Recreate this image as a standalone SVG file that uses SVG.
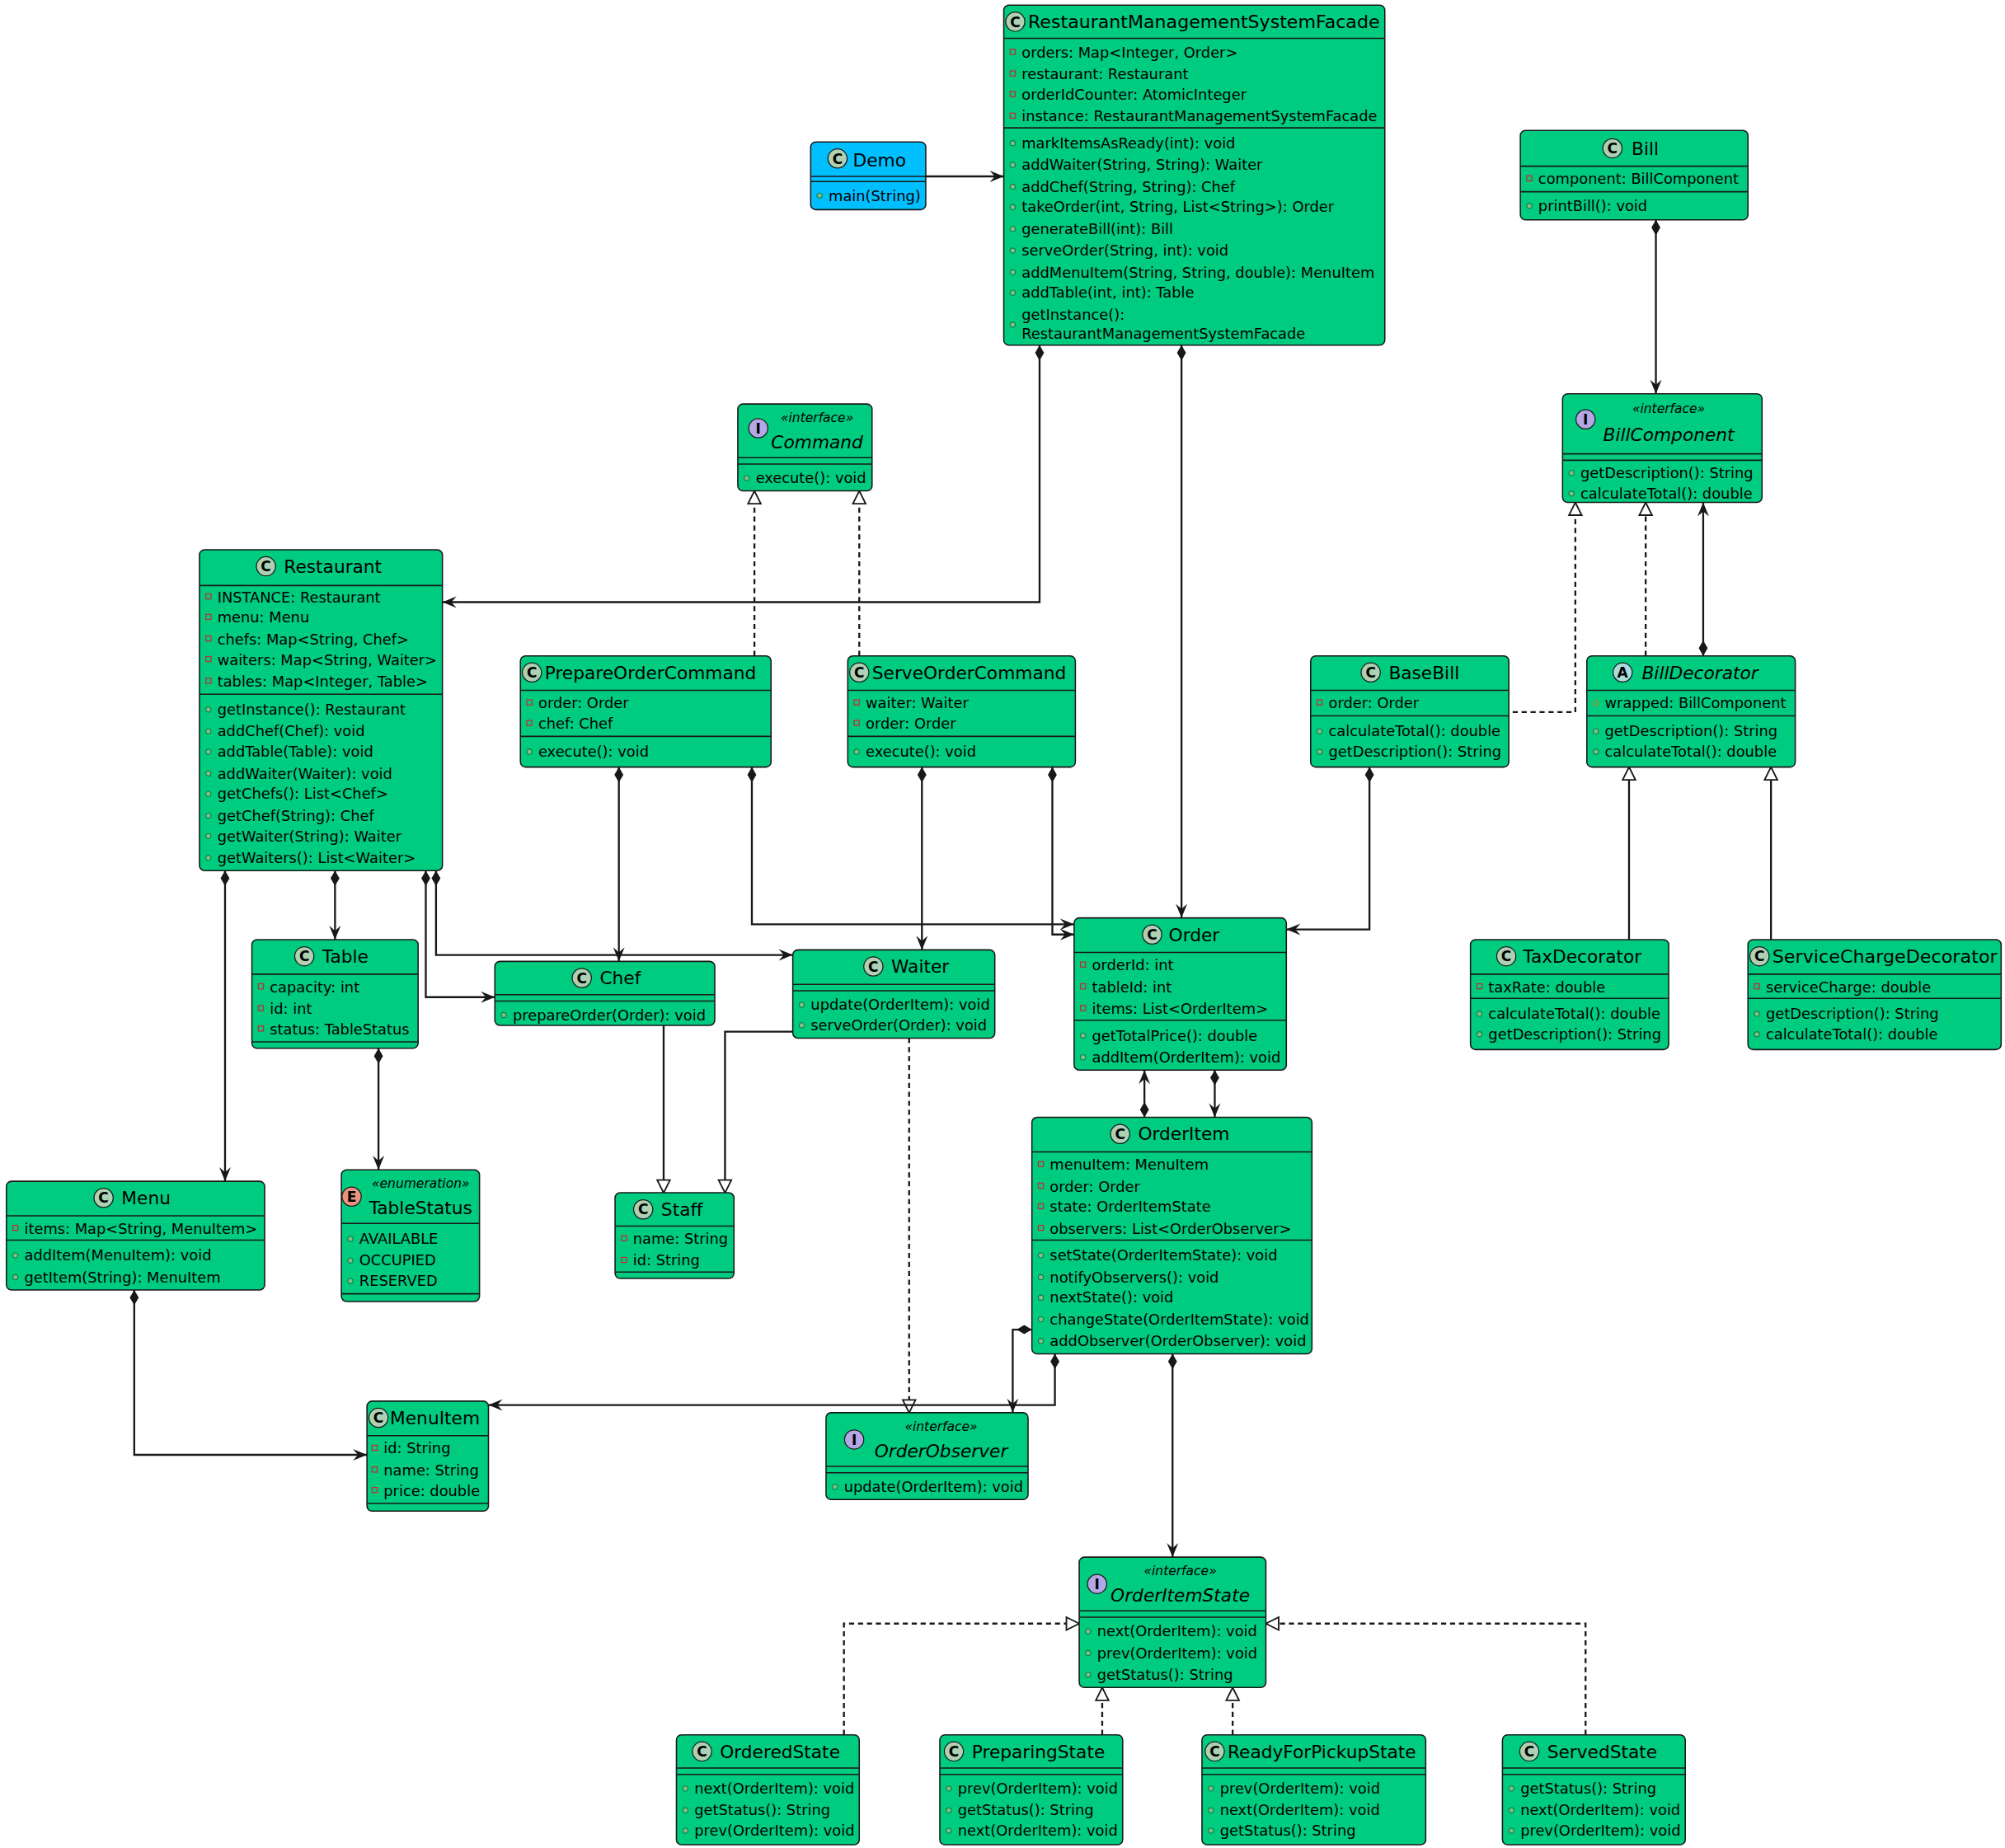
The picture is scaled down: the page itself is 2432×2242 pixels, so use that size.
<svg xmlns="http://www.w3.org/2000/svg" xmlns:xlink="http://www.w3.org/1999/xlink" width="2432" height="2242" viewBox="0 0 2432 2242">
<style>
.n{fill:#00CC80;stroke:#181818;stroke-width:1}
.b{fill:#00BFFF;stroke:#181818;stroke-width:1}
text{font-family:"DejaVu Sans","Liberation Sans",sans-serif;fill:#000}
.t{font-size:14px}
.ti{font-size:14px;font-style:italic}
.m{font-size:11.5px}
.s{font-size:10px;font-style:italic}
.ic{font-size:11px;font-weight:bold;text-anchor:middle}
.l{stroke:#181818;stroke-width:1}
.e{fill:none;stroke:#181818;stroke-width:1.5}
.d{stroke-dasharray:4 3}
.c{fill:#ADD1B2;stroke:#181818;stroke-width:0.8}
.ci{fill:#B4A7E5;stroke:#181818;stroke-width:0.8}
.ca{fill:#A9DCDF;stroke:#181818;stroke-width:0.8}
.ce{fill:#EB937F;stroke:#181818;stroke-width:0.8}
</style>
<defs>
<rect id="pv" x="-2" y="-2.5" width="4" height="4" fill="none" stroke="#C82930" stroke-width="0.8"/>
<circle id="pb" cx="0" cy="0" r="2" fill="#84BE84" stroke="#038048" stroke-width="0.7"/>
<path id="pt" d="M0,-2.5 L2.5,0 L0,2.5 L-2.5,0 Z" fill="none" stroke="#B38D22" stroke-width="0.7"/>
<marker id="ar" markerUnits="userSpaceOnUse" markerWidth="12" markerHeight="10" refX="11" refY="4.5" orient="auto" overflow="visible"><path d="M0,0 L11,4.5 L0,9 L4,4.5 Z" fill="#181818"/></marker>
<marker id="dm" markerUnits="userSpaceOnUse" markerWidth="13" markerHeight="9" refX="0" refY="4" orient="auto" overflow="visible"><path d="M0,4 L6,0.5 L12,4 L6,7.5 Z" fill="#181818"/></marker>
<marker id="tr" markerUnits="userSpaceOnUse" markerWidth="12" markerHeight="12" refX="10" refY="5" orient="auto" overflow="visible"><path d="M0,0 L10,5 L0,10 Z" fill="#fff" stroke="#181818" stroke-width="1.2"/></marker>
</defs>
<rect width="2432" height="2242" fill="#fff"/>
<g transform="scale(1.551)">
<g id="connectors">
<path class="e" d="M724,138 H785" marker-end="url(#ar)"/>
<path class="e" d="M813,270 V471 H346" marker-start="url(#dm)" marker-end="url(#ar)"/>
<path class="e" d="M924,270 V718" marker-start="url(#dm)" marker-end="url(#ar)"/>
<path class="e" d="M1295,172 V308" marker-start="url(#dm)" marker-end="url(#ar)"/>
<path class="e d" d="M590,513 V384" marker-end="url(#tr)"/>
<path class="e d" d="M672,513 V384" marker-end="url(#tr)"/>
<path class="e d" d="M1183,557 H1232 V393" marker-end="url(#tr)"/>
<path class="e d" d="M1287,513 V393" marker-end="url(#tr)"/>
<path class="e" d="M1332,513 V393" marker-start="url(#dm)" marker-end="url(#ar)"/>
<path class="e" d="M1274,735 V600" marker-end="url(#tr)"/>
<path class="e" d="M1385,735 V600" marker-end="url(#tr)"/>
<path class="e" d="M1071,600 V727 H1006" marker-start="url(#dm)" marker-end="url(#ar)"/>
<path class="e" d="M484,600 V752" marker-start="url(#dm)" marker-end="url(#ar)"/>
<path class="e" d="M588,600 V723 H840" marker-start="url(#dm)" marker-end="url(#ar)"/>
<path class="e" d="M721,600 V743" marker-start="url(#dm)" marker-end="url(#ar)"/>
<path class="e" d="M823,600 V731 H840" marker-start="url(#dm)" marker-end="url(#ar)"/>
<path class="e" d="M176,681 V924" marker-start="url(#dm)" marker-end="url(#ar)"/>
<path class="e" d="M262,681 V735" marker-start="url(#dm)" marker-end="url(#ar)"/>
<path class="e" d="M333,681 V780 H387" marker-start="url(#dm)" marker-end="url(#ar)"/>
<path class="e" d="M341,681 V747 H620" marker-start="url(#dm)" marker-end="url(#ar)"/>
<path class="e" d="M296,820 V915" marker-start="url(#dm)" marker-end="url(#ar)"/>
<path class="e" d="M519,802 V933" marker-end="url(#tr)"/>
<path class="e" d="M620,807 H567 V933" marker-end="url(#tr)"/>
<path class="e d" d="M711,812 V1105" marker-end="url(#tr)"/>
<path class="e" d="M895,874 V837" marker-start="url(#dm)" marker-end="url(#ar)"/>
<path class="e" d="M950,837 V874" marker-start="url(#dm)" marker-end="url(#ar)"/>
<path class="e" d="M807,1040 H792 V1105" marker-start="url(#dm)" marker-end="url(#ar)"/>
<path class="e" d="M825,1059 V1099 H382" marker-start="url(#dm)" marker-end="url(#ar)"/>
<path class="e" d="M105,1009 V1138 H287" marker-start="url(#dm)" marker-end="url(#ar)"/>
<path class="e" d="M917,1059 V1218" marker-start="url(#dm)" marker-end="url(#ar)"/>
<path class="e d" d="M660,1357 V1270 H844" marker-end="url(#tr)"/>
<path class="e d" d="M862,1357 V1320" marker-end="url(#tr)"/>
<path class="e d" d="M964,1357 V1320" marker-end="url(#tr)"/>
<path class="e d" d="M1240,1357 V1270 H990" marker-end="url(#tr)"/>
</g>

<g id="Facade">
<rect class="n" x="785" y="4" width="298" height="266" rx="4"/>
<circle class="c" cx="794" cy="17" r="7.5"/><text class="ic" x="794" y="21">C</text>
<text class="t" x="804" y="22" textLength="275" lengthAdjust="spacingAndGlyphs">RestaurantManagementSystemFacade</text>
<line class="l" x1="785" y1="30" x2="1083" y2="30"/>
<use href="#pv" x="792" y="41"/><text class="m" x="799" y="45">orders: Map&lt;Integer, Order&gt;</text>
<use href="#pv" x="792" y="58"/><text class="m" x="799" y="62">restaurant: Restaurant</text>
<use href="#pv" x="792" y="74"/><text class="m" x="799" y="78">orderIdCounter: AtomicInteger</text>
<use href="#pv" x="792" y="91"/><text class="m" x="799" y="95">instance: RestaurantManagementSystemFacade</text>
<line class="l" x1="785" y1="100" x2="1083" y2="100"/>
<use href="#pb" x="792" y="112"/><text class="m" x="799" y="116">markItemsAsReady(int): void</text>
<use href="#pb" x="792" y="129"/><text class="m" x="799" y="133">addWaiter(String, String): Waiter</text>
<use href="#pb" x="792" y="146"/><text class="m" x="799" y="150">addChef(String, String): Chef</text>
<use href="#pb" x="792" y="162"/><text class="m" x="799" y="166">takeOrder(int, String, List&lt;String&gt;): Order</text>
<use href="#pb" x="792" y="179"/><text class="m" x="799" y="183">generateBill(int): Bill</text>
<use href="#pb" x="792" y="196"/><text class="m" x="799" y="200">serveOrder(String, int): void</text>
<use href="#pb" x="792" y="213"/><text class="m" x="799" y="217">addMenuItem(String, String, double): MenuItem</text>
<use href="#pb" x="792" y="229"/><text class="m" x="799" y="233">addTable(int, int): Table</text>
<use href="#pb" x="792" y="254"/><text class="m" x="799" y="250">getInstance():</text><text class="m" x="799" y="265">RestaurantManagementSystemFacade</text>
</g>

<g id="Demo">
<rect class="b" x="634" y="111" width="90" height="53" rx="4"/>
<circle class="c" cx="655" cy="124" r="7.5"/><text class="ic" x="655" y="128">C</text>
<text class="t" x="667" y="130">Demo</text>
<line class="l" x1="634" y1="138" x2="724" y2="138"/><line class="l" x1="634" y1="142" x2="724" y2="142"/>
<use href="#pb" x="641" y="153"/><text class="m" x="648" y="157">main(String)</text>
</g>

<g id="Bill">
<rect class="n" x="1189" y="102" width="178" height="70" rx="4"/>
<circle class="c" cx="1261" cy="116" r="7.5"/><text class="ic" x="1261" y="120">C</text>
<text class="t" x="1276" y="121">Bill</text>
<line class="l" x1="1189" y1="130" x2="1367" y2="130"/>
<use href="#pv" x="1196" y="140"/><text class="m" x="1203" y="144">component: BillComponent</text>
<line class="l" x1="1189" y1="150" x2="1367" y2="150"/>
<use href="#pb" x="1196" y="161"/><text class="m" x="1203" y="165">printBill(): void</text>
</g>

<g id="BillComponent">
<rect class="n" x="1222" y="308" width="156" height="85" rx="4"/>
<circle class="ci" cx="1240" cy="328" r="7.5"/><text class="ic" x="1240" y="332">I</text>
<text class="s" x="1305" y="323" text-anchor="middle">«interface»</text>
<text class="ti" x="1305" y="345" text-anchor="middle">BillComponent</text>
<line class="l" x1="1222" y1="355" x2="1378" y2="355"/><line class="l" x1="1222" y1="360" x2="1378" y2="360"/>
<use href="#pb" x="1229" y="370"/><text class="m" x="1236" y="374">getDescription(): String</text>
<use href="#pb" x="1229" y="386"/><text class="m" x="1236" y="390">calculateTotal(): double</text>
</g>

<g id="Command">
<rect class="n" x="577" y="316" width="105" height="68" rx="4"/>
<circle class="ci" cx="593" cy="335" r="7.5"/><text class="ic" x="593" y="339">I</text>
<text class="s" x="639" y="330" text-anchor="middle">«interface»</text>
<text class="ti" x="639" y="351" text-anchor="middle">Command</text>
<line class="l" x1="577" y1="358" x2="682" y2="358"/><line class="l" x1="577" y1="363" x2="682" y2="363"/>
<use href="#pb" x="584" y="374"/><text class="m" x="591" y="378">execute(): void</text>
</g>

<g id="Restaurant">
<rect class="n" x="156" y="430" width="190" height="251" rx="4"/>
<circle class="c" cx="208" cy="443" r="7.5"/><text class="ic" x="208" y="447">C</text>
<text class="t" x="222" y="448">Restaurant</text>
<line class="l" x1="156" y1="458" x2="346" y2="458"/>
<use href="#pv" x="163" y="467"/><text class="m" x="170" y="471">INSTANCE: Restaurant</text>
<use href="#pv" x="163" y="483"/><text class="m" x="170" y="487">menu: Menu</text>
<use href="#pv" x="163" y="500"/><text class="m" x="170" y="504">chefs: Map&lt;String, Chef&gt;</text>
<use href="#pv" x="163" y="516"/><text class="m" x="170" y="520">waiters: Map&lt;String, Waiter&gt;</text>
<use href="#pv" x="163" y="533"/><text class="m" x="170" y="537">tables: Map&lt;Integer, Table&gt;</text>
<line class="l" x1="156" y1="543" x2="346" y2="543"/>
<use href="#pb" x="163" y="555"/><text class="m" x="170" y="559">getInstance(): Restaurant</text>
<use href="#pb" x="163" y="572"/><text class="m" x="170" y="576">addChef(Chef): void</text>
<use href="#pb" x="163" y="588"/><text class="m" x="170" y="592">addTable(Table): void</text>
<use href="#pb" x="163" y="605"/><text class="m" x="170" y="609">addWaiter(Waiter): void</text>
<use href="#pb" x="163" y="621"/><text class="m" x="170" y="625">getChefs(): List&lt;Chef&gt;</text>
<use href="#pb" x="163" y="638"/><text class="m" x="170" y="642">getChef(String): Chef</text>
<use href="#pb" x="163" y="654"/><text class="m" x="170" y="658">getWaiter(String): Waiter</text>
<use href="#pb" x="163" y="671"/><text class="m" x="170" y="675">getWaiters(): List&lt;Waiter&gt;</text>
</g>

<g id="PrepareOrderCommand">
<rect class="n" x="407" y="513" width="196" height="87" rx="4"/>
<circle class="c" cx="416" cy="526" r="7.5"/><text class="ic" x="416" y="530">C</text>
<text class="t" x="426" y="531">PrepareOrderCommand</text>
<line class="l" x1="407" y1="540" x2="603" y2="540"/>
<use href="#pv" x="414" y="550"/><text class="m" x="421" y="554">order: Order</text>
<use href="#pv" x="414" y="566"/><text class="m" x="421" y="570">chef: Chef</text>
<line class="l" x1="407" y1="576" x2="603" y2="576"/>
<use href="#pb" x="414" y="588"/><text class="m" x="421" y="592">execute(): void</text>
</g>

<g id="ServeOrderCommand">
<rect class="n" x="663" y="513" width="178" height="87" rx="4"/>
<circle class="c" cx="672" cy="526" r="7.5"/><text class="ic" x="672" y="530">C</text>
<text class="t" x="682" y="531">ServeOrderCommand</text>
<line class="l" x1="663" y1="540" x2="841" y2="540"/>
<use href="#pv" x="670" y="550"/><text class="m" x="677" y="554">waiter: Waiter</text>
<use href="#pv" x="670" y="566"/><text class="m" x="677" y="570">order: Order</text>
<line class="l" x1="663" y1="576" x2="841" y2="576"/>
<use href="#pb" x="670" y="588"/><text class="m" x="677" y="592">execute(): void</text>
</g>

<g id="BaseBill">
<rect class="n" x="1025" y="513" width="155" height="87" rx="4"/>
<circle class="c" cx="1072" cy="526" r="7.5"/><text class="ic" x="1072" y="530">C</text>
<text class="t" x="1086" y="531">BaseBill</text>
<line class="l" x1="1025" y1="540" x2="1180" y2="540"/>
<use href="#pv" x="1032" y="550"/><text class="m" x="1039" y="554">order: Order</text>
<line class="l" x1="1025" y1="560" x2="1180" y2="560"/>
<use href="#pb" x="1032" y="572"/><text class="m" x="1039" y="576">calculateTotal(): double</text>
<use href="#pb" x="1032" y="588"/><text class="m" x="1039" y="592">getDescription(): String</text>
</g>

<g id="BillDecorator">
<rect class="n" x="1241" y="513" width="163" height="87" rx="4"/>
<circle class="ca" cx="1269" cy="526" r="7.5"/><text class="ic" x="1269" y="530">A</text>
<text class="ti" x="1284" y="531">BillDecorator</text>
<line class="l" x1="1241" y1="540" x2="1404" y2="540"/>
<use href="#pt" x="1248" y="550"/><text class="m" x="1255" y="554">wrapped: BillComponent</text>
<line class="l" x1="1241" y1="560" x2="1404" y2="560"/>
<use href="#pb" x="1248" y="572"/><text class="m" x="1255" y="576">getDescription(): String</text>
<use href="#pb" x="1248" y="588"/><text class="m" x="1255" y="592">calculateTotal(): double</text>
</g>

<g id="Order">
<rect class="n" x="840" y="718" width="166" height="119" rx="4"/>
<circle class="c" cx="901" cy="731" r="7.5"/><text class="ic" x="901" y="735">C</text>
<text class="t" x="914" y="736">Order</text>
<line class="l" x1="840" y1="745" x2="1006" y2="745"/>
<use href="#pv" x="847" y="755"/><text class="m" x="854" y="759">orderId: int</text>
<use href="#pv" x="847" y="772"/><text class="m" x="854" y="776">tableId: int</text>
<use href="#pv" x="847" y="789"/><text class="m" x="854" y="793">items: List&lt;OrderItem&gt;</text>
<line class="l" x1="840" y1="798" x2="1006" y2="798"/>
<use href="#pb" x="847" y="810"/><text class="m" x="854" y="814">getTotalPrice(): double</text>
<use href="#pb" x="847" y="827"/><text class="m" x="854" y="831">addItem(OrderItem): void</text>
</g>

<g id="Table">
<rect class="n" x="197" y="735" width="130" height="85" rx="4"/>
<circle class="c" cx="238" cy="748" r="7.5"/><text class="ic" x="238" y="752">C</text>
<text class="t" x="252" y="753">Table</text>
<line class="l" x1="197" y1="762" x2="327" y2="762"/>
<use href="#pv" x="204" y="772"/><text class="m" x="211" y="776">capacity: int</text>
<use href="#pv" x="204" y="789"/><text class="m" x="211" y="793">id: int</text>
<use href="#pv" x="204" y="805"/><text class="m" x="211" y="809">status: TableStatus</text>
<line class="l" x1="197" y1="815" x2="327" y2="815"/>
</g>

<g id="Chef">
<rect class="n" x="387" y="752" width="172" height="50" rx="4"/>
<circle class="c" cx="455" cy="765" r="7.5"/><text class="ic" x="455" y="769">C</text>
<text class="t" x="469" y="770">Chef</text>
<line class="l" x1="387" y1="778" x2="559" y2="778"/><line class="l" x1="387" y1="783" x2="559" y2="783"/>
<use href="#pb" x="394" y="794"/><text class="m" x="401" y="798">prepareOrder(Order): void</text>
</g>

<g id="Waiter">
<rect class="n" x="620" y="743" width="158" height="69" rx="4"/>
<circle class="c" cx="683" cy="756" r="7.5"/><text class="ic" x="683" y="760">C</text>
<text class="t" x="697" y="761">Waiter</text>
<line class="l" x1="620" y1="770" x2="778" y2="770"/><line class="l" x1="620" y1="775" x2="778" y2="775"/>
<use href="#pb" x="627" y="786"/><text class="m" x="634" y="790">update(OrderItem): void</text>
<use href="#pb" x="627" y="802"/><text class="m" x="634" y="806">serveOrder(Order): void</text>
</g>

<g id="TaxDecorator">
<rect class="n" x="1150" y="735" width="155" height="86" rx="4"/>
<circle class="c" cx="1178" cy="748" r="7.5"/><text class="ic" x="1178" y="752">C</text>
<text class="t" x="1191" y="753">TaxDecorator</text>
<line class="l" x1="1150" y1="762" x2="1305" y2="762"/>
<use href="#pv" x="1157" y="772"/><text class="m" x="1164" y="776">taxRate: double</text>
<line class="l" x1="1150" y1="781" x2="1305" y2="781"/>
<use href="#pb" x="1157" y="793"/><text class="m" x="1164" y="797">calculateTotal(): double</text>
<use href="#pb" x="1157" y="809"/><text class="m" x="1164" y="813">getDescription(): String</text>
</g>

<g id="ServiceChargeDecorator">
<rect class="n" x="1367" y="735" width="198" height="86" rx="4"/>
<circle class="c" cx="1376" cy="748" r="7.5"/><text class="ic" x="1376" y="752">C</text>
<text class="t" x="1386" y="753" textLength="176" lengthAdjust="spacingAndGlyphs">ServiceChargeDecorator</text>
<line class="l" x1="1367" y1="762" x2="1565" y2="762"/>
<use href="#pv" x="1374" y="772"/><text class="m" x="1381" y="776">serviceCharge: double</text>
<line class="l" x1="1367" y1="781" x2="1565" y2="781"/>
<use href="#pb" x="1374" y="793"/><text class="m" x="1381" y="797">getDescription(): String</text>
<use href="#pb" x="1374" y="809"/><text class="m" x="1381" y="813">calculateTotal(): double</text>
</g>

<g id="OrderItem">
<rect class="n" x="807" y="874" width="219" height="185" rx="4"/>
<circle class="c" cx="876" cy="887" r="7.5"/><text class="ic" x="876" y="891">C</text>
<text class="t" x="890" y="892">OrderItem</text>
<line class="l" x1="807" y1="901" x2="1026" y2="901"/>
<use href="#pv" x="814" y="911"/><text class="m" x="821" y="915">menuItem: MenuItem</text>
<use href="#pv" x="814" y="928"/><text class="m" x="821" y="932">order: Order</text>
<use href="#pv" x="814" y="944"/><text class="m" x="821" y="948">state: OrderItemState</text>
<use href="#pv" x="814" y="961"/><text class="m" x="821" y="965">observers: List&lt;OrderObserver&gt;</text>
<line class="l" x1="807" y1="970" x2="1026" y2="970"/>
<use href="#pb" x="814" y="982"/><text class="m" x="821" y="986">setState(OrderItemState): void</text>
<use href="#pb" x="814" y="999"/><text class="m" x="821" y="1003">notifyObservers(): void</text>
<use href="#pb" x="814" y="1015"/><text class="m" x="821" y="1019">nextState(): void</text>
<use href="#pb" x="814" y="1032"/><text class="m" x="821" y="1036">changeState(OrderItemState): void</text>
<use href="#pb" x="814" y="1049"/><text class="m" x="821" y="1053">addObserver(OrderObserver): void</text>
</g>

<g id="Menu">
<rect class="n" x="5" y="924" width="202" height="85" rx="4"/>
<circle class="c" cx="81" cy="937" r="7.5"/><text class="ic" x="81" y="941">C</text>
<text class="t" x="95" y="942">Menu</text>
<line class="l" x1="5" y1="951" x2="207" y2="951"/>
<use href="#pv" x="12" y="961"/><text class="m" x="19" y="965">items: Map&lt;String, MenuItem&gt;</text>
<line class="l" x1="5" y1="970" x2="207" y2="970"/>
<use href="#pb" x="12" y="982"/><text class="m" x="19" y="986">addItem(MenuItem): void</text>
<use href="#pb" x="12" y="999"/><text class="m" x="19" y="1003">getItem(String): MenuItem</text>
</g>

<g id="TableStatus">
<rect class="n" x="267" y="915" width="108" height="103" rx="4"/>
<circle class="ce" cx="275" cy="936" r="7.5"/><text class="ic" x="275" y="940">E</text>
<text class="s" x="329" y="929" text-anchor="middle">«enumeration»</text>
<text class="t" x="329" y="950" text-anchor="middle">TableStatus</text>
<line class="l" x1="267" y1="957" x2="375" y2="957"/>
<use href="#pb" x="274" y="969"/><text class="m" x="281" y="973">AVAILABLE</text>
<use href="#pb" x="274" y="986"/><text class="m" x="281" y="990">OCCUPIED</text>
<use href="#pb" x="274" y="1002"/><text class="m" x="281" y="1006">RESERVED</text>
<line class="l" x1="267" y1="1012" x2="375" y2="1012"/>
</g>

<g id="Staff">
<rect class="n" x="481" y="933" width="93" height="67" rx="4"/>
<circle class="c" cx="503" cy="946" r="7.5"/><text class="ic" x="503" y="950">C</text>
<text class="t" x="517" y="951">Staff</text>
<line class="l" x1="481" y1="959" x2="574" y2="959"/>
<use href="#pv" x="488" y="969"/><text class="m" x="495" y="973">name: String</text>
<use href="#pv" x="488" y="986"/><text class="m" x="495" y="990">id: String</text>
<line class="l" x1="481" y1="995" x2="574" y2="995"/>
</g>

<g id="MenuItem">
<rect class="n" x="287" y="1096" width="95" height="86" rx="4"/>
<circle class="c" cx="296" cy="1109" r="7.5"/><text class="ic" x="296" y="1113">C</text>
<text class="t" x="305" y="1114">MenuItem</text>
<line class="l" x1="287" y1="1123" x2="382" y2="1123"/>
<use href="#pv" x="293" y="1133"/><text class="m" x="300" y="1137">id: String</text>
<use href="#pv" x="293" y="1150"/><text class="m" x="300" y="1154">name: String</text>
<use href="#pv" x="293" y="1166"/><text class="m" x="300" y="1170">price: double</text>
<line class="l" x1="287" y1="1176" x2="382" y2="1176"/>
</g>

<g id="OrderObserver">
<rect class="n" x="646" y="1105" width="158" height="68" rx="4"/>
<circle class="ci" cx="668" cy="1126" r="7.5"/><text class="ic" x="668" y="1130">I</text>
<text class="s" x="736" y="1119" text-anchor="middle">«interface»</text>
<text class="ti" x="736" y="1140" text-anchor="middle">OrderObserver</text>
<line class="l" x1="646" y1="1147" x2="804" y2="1147"/><line class="l" x1="646" y1="1152" x2="804" y2="1152"/>
<use href="#pb" x="653" y="1163"/><text class="m" x="660" y="1167">update(OrderItem): void</text>
</g>

<g id="OrderItemState">
<rect class="n" x="844" y="1218" width="146" height="102" rx="4"/>
<circle class="ci" cx="858" cy="1239" r="7.5"/><text class="ic" x="858" y="1243">I</text>
<text class="s" x="923" y="1232" text-anchor="middle">«interface»</text>
<text class="ti" x="923" y="1253" text-anchor="middle">OrderItemState</text>
<line class="l" x1="844" y1="1260" x2="990" y2="1260"/><line class="l" x1="844" y1="1265" x2="990" y2="1265"/>
<use href="#pb" x="851" y="1276"/><text class="m" x="858" y="1280">next(OrderItem): void</text>
<use href="#pb" x="851" y="1293"/><text class="m" x="858" y="1297">prev(OrderItem): void</text>
<use href="#pb" x="851" y="1310"/><text class="m" x="858" y="1314">getStatus(): String</text>
</g>

<g id="OrderedState">
<rect class="n" x="529" y="1357" width="143" height="86" rx="4"/>
<circle class="c" cx="549" cy="1370" r="7.5"/><text class="ic" x="549" y="1374">C</text>
<text class="t" x="563" y="1375">OrderedState</text>
<line class="l" x1="529" y1="1383" x2="672" y2="1383"/><line class="l" x1="529" y1="1388" x2="672" y2="1388"/>
<use href="#pb" x="536" y="1399"/><text class="m" x="543" y="1403">next(OrderItem): void</text>
<use href="#pb" x="536" y="1416"/><text class="m" x="543" y="1420">getStatus(): String</text>
<use href="#pb" x="536" y="1432"/><text class="m" x="543" y="1436">prev(OrderItem): void</text>
</g>

<g id="PreparingState">
<rect class="n" x="735" y="1357" width="143" height="86" rx="4"/>
<circle class="c" cx="746" cy="1370" r="7.5"/><text class="ic" x="746" y="1374">C</text>
<text class="t" x="760" y="1375">PreparingState</text>
<line class="l" x1="735" y1="1383" x2="878" y2="1383"/><line class="l" x1="735" y1="1388" x2="878" y2="1388"/>
<use href="#pb" x="742" y="1399"/><text class="m" x="749" y="1403">prev(OrderItem): void</text>
<use href="#pb" x="742" y="1416"/><text class="m" x="749" y="1420">getStatus(): String</text>
<use href="#pb" x="742" y="1432"/><text class="m" x="749" y="1436">next(OrderItem): void</text>
</g>

<g id="ReadyForPickupState">
<rect class="n" x="940" y="1357" width="175" height="86" rx="4"/>
<circle class="c" cx="950" cy="1370" r="7.5"/><text class="ic" x="950" y="1374">C</text>
<text class="t" x="960" y="1375">ReadyForPickupState</text>
<line class="l" x1="940" y1="1383" x2="1115" y2="1383"/><line class="l" x1="940" y1="1388" x2="1115" y2="1388"/>
<use href="#pb" x="947" y="1399"/><text class="m" x="954" y="1403">prev(OrderItem): void</text>
<use href="#pb" x="947" y="1416"/><text class="m" x="954" y="1420">next(OrderItem): void</text>
<use href="#pb" x="947" y="1432"/><text class="m" x="954" y="1436">getStatus(): String</text>
</g>

<g id="ServedState">
<rect class="n" x="1175" y="1357" width="143" height="86" rx="4"/>
<circle class="c" cx="1196" cy="1370" r="7.5"/><text class="ic" x="1196" y="1374">C</text>
<text class="t" x="1210" y="1375">ServedState</text>
<line class="l" x1="1175" y1="1383" x2="1318" y2="1383"/><line class="l" x1="1175" y1="1388" x2="1318" y2="1388"/>
<use href="#pb" x="1182" y="1399"/><text class="m" x="1189" y="1403">getStatus(): String</text>
<use href="#pb" x="1182" y="1416"/><text class="m" x="1189" y="1420">next(OrderItem): void</text>
<use href="#pb" x="1182" y="1432"/><text class="m" x="1189" y="1436">prev(OrderItem): void</text>
</g>
</g>
</svg>
